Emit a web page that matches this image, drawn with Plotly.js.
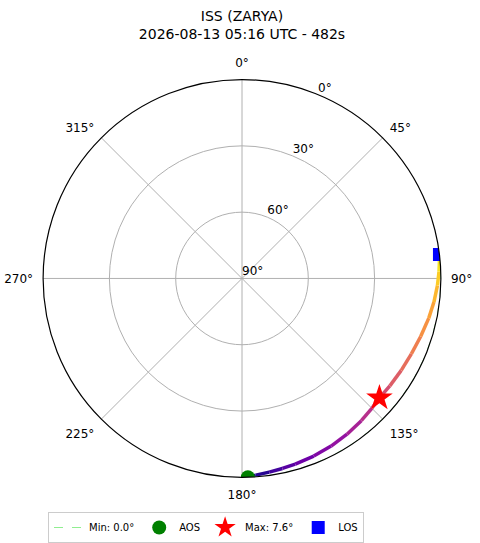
<!DOCTYPE html>
<html>
<head>
<meta charset="utf-8">
<script src="https://cdn.plot.ly/plotly-3.0.1.min.js"></script>
<style>
  html, body { margin: 0; padding: 0; background: #fff; }
  #chart { width: 480px; height: 543px; }
</style>
</head>
<body>
<div id="chart"></div>
<script>
// pass track, azimuth (deg, clockwise from north) and elevation (deg)
var track_az = [178.3, 176, 172, 168, 164, 158, 152, 146, 140, 135, 131, 126, 120, 114, 108, 102, 97, 92, 88, 85, 83.1];
var track_el = [0, 0.8, 1.5, 2.1, 2.6, 3.3, 4.1, 5.0, 6.0, 6.9, 7.6, 7.3, 6.8, 6.1, 5.0, 3.6, 2.5, 1.5, 0.8, 0.3, 0];

var aos = {az: 178.3, el: 0};
var max_pt = {az: 131, el: 7.6};
var los = {az: 83.1, el: 0};
var min_el = 0.0;

var radial_ticks = [0, 30, 60, 90];
var radial_labels = ["0°", "30°", "60°", "90°"];
var radial_label_az = 22.5;
var title_lines = ["ISS (ZARYA)", "2026-08-13 05:16 UTC - 482s"];

// plasma colormap stops
var plasma = ["#0d0887", "#41049d", "#6a00a8", "#8f0da4", "#b12a90", "#cc4778",
              "#e16462", "#f2844b", "#fca636", "#fcce25", "#f0f921"];

function hex2rgb(h) {
    return [parseInt(h.substr(1, 2), 16), parseInt(h.substr(3, 2), 16), parseInt(h.substr(5, 2), 16)];
}

function plasma_color(t) {
    var p = t * (plasma.length - 1);
    var i = Math.min(Math.floor(p), plasma.length - 2);
    var f = p - i;
    var a = hex2rgb(plasma[i]);
    var b = hex2rgb(plasma[i + 1]);
    var c = [0, 1, 2].map(function (k) { return Math.round(a[k] + (b[k] - a[k]) * f); });
    return "rgb(" + c.join(",") + ")";
}

var data = [];

// track drawn as coloured segments (time goes from AOS to LOS)
var nseg = track_az.length - 1;
for (var i = 0; i < nseg; i++) {
    data.push({
        type: 'scatterpolar',
        mode: 'lines',
        theta: [track_az[i], track_az[i + 1]],
        r: [track_el[i], track_el[i + 1]],
        line: {color: plasma_color(i / (nseg - 1)), width: 3.5},
        showlegend: false,
        hoverinfo: 'skip'
    });
}

// elevation labels, set at the tick positions like matplotlib does
data.push({
    type: 'scatterpolar',
    mode: 'text',
    theta: radial_ticks.map(function () { return radial_label_az; }),
    r: radial_ticks,
    text: radial_labels,
    textposition: 'top right',
    textfont: {size: 12, color: 'black'},
    showlegend: false,
    hoverinfo: 'skip'
});

// minimum elevation line (sits on the horizon here)
data.push({
    type: 'scatterpolar',
    mode: 'lines',
    theta: track_az,
    r: track_az.map(function () { return min_el; }),
    line: {color: '#90ee90', width: 1, dash: 'dash'},
    name: 'Min: ' + min_el.toFixed(1) + '°'
});

data.push({
    type: 'scatterpolar',
    mode: 'markers',
    theta: [aos.az],
    r: [aos.el],
    marker: {color: 'green', size: 14, symbol: 'circle'},
    cliponaxis: true,
    name: 'AOS'
});

data.push({
    type: 'scatterpolar',
    mode: 'markers',
    theta: [max_pt.az],
    r: [max_pt.el],
    marker: {color: 'red', size: 20, symbol: 'star'},
    cliponaxis: true,
    name: 'Max: ' + max_pt.el.toFixed(1) + '°'
});

data.push({
    type: 'scatterpolar',
    mode: 'markers',
    theta: [los.az],
    r: [los.el],
    marker: {color: 'blue', size: 13, symbol: 'square'},
    cliponaxis: true,
    name: 'LOS'
});

var layout = {
    width: 480,
    height: 543,
    margin: {l: 0, r: 0, t: 0, b: 0},
    paper_bgcolor: 'white',
    font: {family: 'DejaVu Sans, sans-serif', size: 12, color: 'black'},
    title: {
        text: title_lines.join('<br>'),
        font: {size: 14, color: 'black'},
        x: 242 / 480,
        xanchor: 'center',
        xref: 'paper',
        y: 1 - 21 / 543,
        yanchor: 'middle',
        yref: 'paper'
    },
    polar: {
        domain: {x: [42 / 480, 442 / 480], y: [63 / 543, 463 / 543]},
        bgcolor: 'white',
        angularaxis: {
            rotation: 90,
            direction: 'clockwise',
            dtick: 45,
            ticksuffix: '°',
            ticks: 'outside',
            ticklen: 7,
            tickcolor: 'rgba(0,0,0,0)',
            showline: true,
            linecolor: 'black',
            linewidth: 1.2,
            gridcolor: '#b0b0b0',
            gridwidth: 1,
            tickfont: {size: 12}
        },
        radialaxis: {
            range: [90, 0],
            tickmode: 'array',
            tickvals: radial_ticks,
            showticklabels: false,
            angle: 67.5,
            ticks: '',
            showline: false,
            gridcolor: '#b0b0b0',
            gridwidth: 1
        }
    },
    showlegend: true,
    legend: {
        orientation: 'h',
        x: 48 / 480,
        xanchor: 'left',
        y: 28 / 543,
        yanchor: 'top',
        font: {size: 10},
        bordercolor: '#cccccc',
        borderwidth: 1,
        bgcolor: 'white',
        itemwidth: 30
    }
};

var config = {displayModeBar: false, staticPlot: true};
Plotly.newPlot('chart', data, layout, config);
</script>
</body>
</html>
